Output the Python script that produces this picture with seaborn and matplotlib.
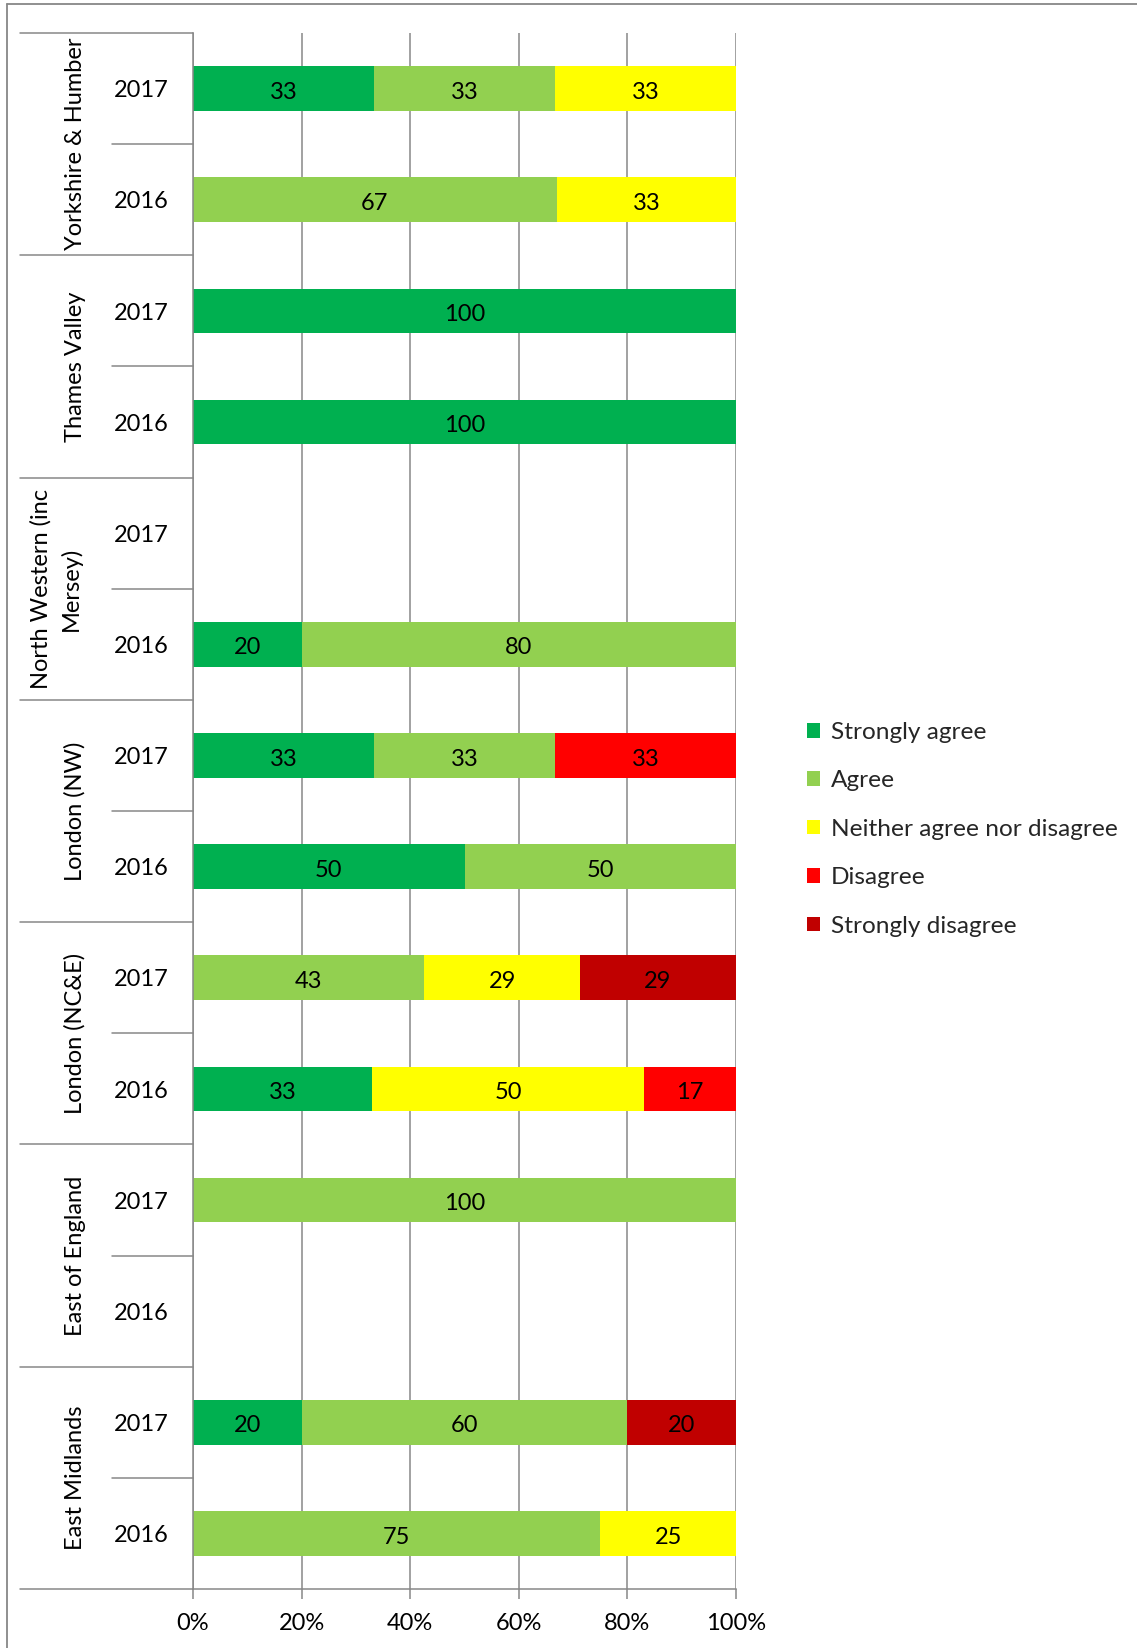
import matplotlib
matplotlib.use("Agg")
import matplotlib.pyplot as plt
import seaborn as sns
import numpy as np
import pandas as pd
from matplotlib.lines import Line2D
from matplotlib.patches import Patch
from matplotlib import transforms

# ---- data -------------------------------------------------------------
regions = ["Yorkshire & Humber", "Thames Valley", "North Western (inc\nMersey)",
           "London (NW)", "London (NC&E)", "East of England", "East Midlands"]
years = ["2017", "2016"]
responses = ["Strongly agree", "Agree", "Neither agree nor disagree",
             "Disagree", "Strongly disagree"]
colors = ["#00B050", "#92D050", "#FFFF00", "#FF0000", "#C00000"]
x_ticks = [0, 20, 40, 60, 80, 100]
x_tick_labels = ["0%", "20%", "40%", "60%", "80%", "100%"]

# one entry per region/year row (2017 then 2016 for each region), in %
strongly_agree    = [33, 0, 100, 100, 0, 20, 33, 50, 0, 33, 0, 0, 20, 0]
agree             = [33, 67, 0, 0, 0, 80, 33, 50, 43, 0, 100, 0, 60, 75]
neither           = [33, 33, 0, 0, 0, 0, 0, 0, 29, 50, 0, 0, 0, 25]
disagree          = [0, 0, 0, 0, 0, 0, 33, 0, 0, 17, 0, 0, 0, 0]
strongly_disagree = [0, 0, 0, 0, 0, 0, 0, 0, 29, 0, 0, 0, 20, 0]

# ---- table ------------------------------------------------------------
slots = [f"{r}|{y}" for r in regions for y in years]
vals = np.array([strongly_agree, agree, neither, disagree, strongly_disagree], float).T
tot = vals.sum(axis=1, keepdims=True)
share = np.divide(vals * 100, tot, out=np.zeros_like(vals), where=tot > 0)
cum = np.cumsum(share, axis=1)
df = pd.DataFrame({"slot": slots})
for k in range(len(responses)):
    df[f"cum{k}"] = cum[:, k]

# ---- figure -----------------------------------------------------------
W, H = 1137, 1648
sns.set_theme(style="white")
plt.rcParams["font.family"] = ["Lato", "DejaVu Sans"]
fig = plt.figure(figsize=(W / 100, H / 100), dpi=100)
ax = fig.add_axes([193 / W, 1 - 1589 / H, 543 / W, 1556 / H])

grey = "#878787"
fs = 17

# 100% stacked bars: draw cumulative totals from the last response backwards
for k in reversed(range(len(responses))):
    sns.barplot(data=df, x=f"cum{k}", y="slot", order=slots, orient="h",
                color=colors[k], saturation=1, width=0.4, linewidth=0,
                errorbar=None, ax=ax)

# value labels centred in each segment (nudged down a little)
lab_tr = transforms.offset_copy(ax.transData, fig=fig, x=0, y=-2.6, units="points")
for i in range(len(slots)):
    for k in range(len(responses)):
        if share[i, k] > 0:
            ax.text(cum[i, k] - share[i, k] / 2, i, f"{int(vals[i, k])}",
                    transform=lab_tr, ha="center", va="center", fontsize=fs,
                    color="black")

ax.set_xlim(0, 100)
ax.set_ylim(len(slots) - 0.5, -0.5)
ax.set_xticks(x_ticks)
ax.set_xticklabels(x_tick_labels)
ax.set_axisbelow(True)
ax.xaxis.grid(True, color=grey, linewidth=1.1)
ax.yaxis.grid(False)
ax.set_xlabel("")
ax.set_ylabel("")
ax.set_yticks([])
ax.tick_params(axis="x", direction="out", length=7, width=1.1, color=grey,
               labelsize=fs, pad=10, labelcolor="black", bottom=True)
for s in ["top", "right"]:
    ax.spines[s].set_visible(False)
for s in ["left", "bottom"]:
    ax.spines[s].set_color(grey)
    ax.spines[s].set_linewidth(1.1)

# multi-level category axis drawn to the left of the plot
blend = transforms.blended_transform_factory(fig.transFigure, ax.transData)
blend_txt = transforms.offset_copy(blend, fig=fig, x=0, y=-1.6, units="points")
x_out, x_mid, x_axis = 20 / W, 112 / W, 193 / W
for g in range(len(regions) + 1):
    yb = g * 2 - 0.5
    ax.add_line(Line2D([x_out, x_axis], [yb, yb], transform=blend, color=grey,
                       lw=1.1, clip_on=False))
for g in range(len(regions)):
    yb = g * 2 + 0.5
    ax.add_line(Line2D([x_mid, x_axis], [yb, yb], transform=blend, color=grey,
                       lw=1.1, clip_on=False))
for i, s in enumerate(slots):
    ax.text(141 / W, i, s.split("|")[1], transform=blend_txt, ha="center",
            va="center", fontsize=fs, color="black")
for g, r in enumerate(regions):
    nl = r.count("\n")
    ax.text((75 - 19 * nl) / W, g * 2 + 0.5, r, transform=blend, rotation=90,
            ha="center", va="center", multialignment="center", fontsize=fs,
            color="black", linespacing=1.45)

# legend
handles = [Patch(facecolor=c, edgecolor="none") for c in colors]
fig.legend(handles, responses, loc="upper left",
           bbox_to_anchor=(807 / W, 1 - 722 / H), frameon=False, fontsize=17.6,
           handlelength=0.55, handleheight=0.55, handletextpad=0.42,
           labelspacing=1.12, borderpad=0, borderaxespad=0)

# chart area border
fig.add_artist(Line2D([7 / W, 7 / W], [0, 1 - 4 / H], transform=fig.transFigure,
                      color=grey, lw=1.3))
fig.add_artist(Line2D([7 / W, 1], [1 - 4 / H, 1 - 4 / H], transform=fig.transFigure,
                      color=grey, lw=1.3))

fig.savefig("out.png", dpi=100, facecolor="white")
